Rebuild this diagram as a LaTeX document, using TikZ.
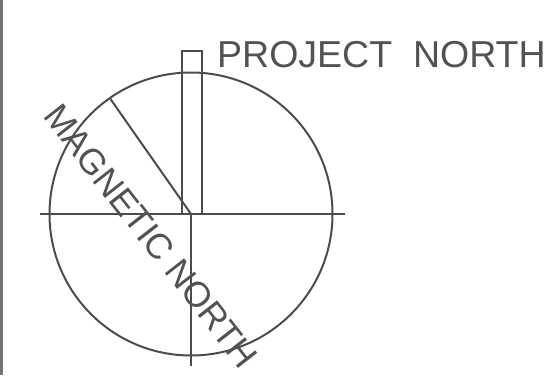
\documentclass[tikz,border=0pt]{standalone}
\usepackage{fontspec}
\setmainfont{Liberation Sans}
\begin{document}
\begin{tikzpicture}[x=1pt,y=-1pt,
  ink/.style={draw=black!70,line width=2pt},
  lbl/.style={text=black!68,inner sep=0pt}]
\useasboundingbox (0,0) rectangle (553,375);
\fill[black!55] (0,0) rectangle (2.5,375);
\coordinate (O) at (191,214);
\coordinate (W) at (40,214);
\coordinate (E) at (345,214);
\coordinate (S) at (191,366);
\coordinate (M) at (110.1,98.5);
\draw[ink] (O) circle[radius=141.5];
\draw[ink] (W) -- (E);
\draw[ink] (O) -- (S);
\draw[ink] (O) -- (M);
\node[ink,draw,inner sep=0pt,minimum width=19.5pt,minimum height=163pt] (pn) at (191.75,132.5) {};
\node[lbl,anchor=base west,font=\fontsize{37.5}{40}\selectfont] (ptext) at (217,67) {PROJECT\ \ NORTH};
\node[lbl,rotate=-52,anchor=center,font=\fontsize{35.5}{38}\selectfont] (mtext) at (151,236) {MAGNETIC NORTH};
\end{tikzpicture}
\end{document}
